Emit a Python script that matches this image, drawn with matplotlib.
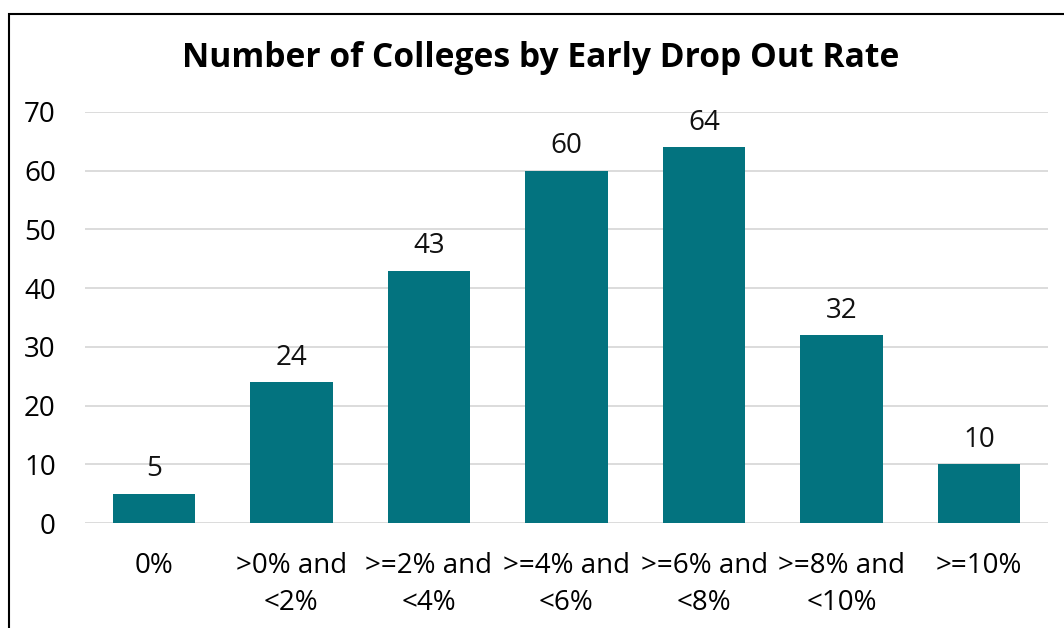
import matplotlib.pyplot as plt
from matplotlib.patches import Rectangle

plt.rcParams['font.family'] = ['Open Sans', 'DejaVu Sans']

categories = ['0%', '>0% and\n<2%', '>=2% and\n<4%', '>=4% and\n<6%',
              '>=6% and\n<8%', '>=8% and\n<10%', '>=10%']
counts = [5, 24, 43, 60, 64, 32, 10]
yticks = [0, 10, 20, 30, 40, 50, 60, 70]

bar_color = '#03737F'

fig = plt.figure(figsize=(10.64, 6.28), dpi=100)
ax = fig.add_axes([85 / 1064, 1 - 523 / 628, (1048 - 85) / 1064, (523 - 112) / 628])

x = range(len(categories))
bars = ax.bar(x, counts, width=0.6, color=bar_color, zorder=3)
for b, v in zip(bars, counts):
    ax.text(b.get_x() + b.get_width() / 2, v + 1.8, str(v), ha='center', va='bottom',
            fontsize=20, color='#111111')

ax.set_xlim(-0.5, len(categories) - 0.5)
ax.set_ylim(0, 70)
ax.set_yticks(yticks)
ax.set_xticks(list(x))
ax.set_xticklabels(categories, fontsize=20, linespacing=1.42)
ax.tick_params(axis='y', labelsize=20, length=0, pad=21)
ax.tick_params(axis='x', length=0, pad=21)
ax.grid(axis='y', color='#d9d9d9', linewidth=1.3, zorder=0)
for s in ax.spines.values():
    s.set_visible(False)

fig.text(541 / 1064, 1 - 58 / 628, 'Number of Colleges by Early Drop Out Rate',
         ha='center', va='center', fontsize=24.2, fontweight='bold')

fig.patches.append(Rectangle((9 / 1064, -0.1), 1.2, 1 - 14 / 628 + 0.1,
                             transform=fig.transFigure, fill=False,
                             edgecolor='black', linewidth=1.5))

fig.savefig('out.png', dpi=100)
